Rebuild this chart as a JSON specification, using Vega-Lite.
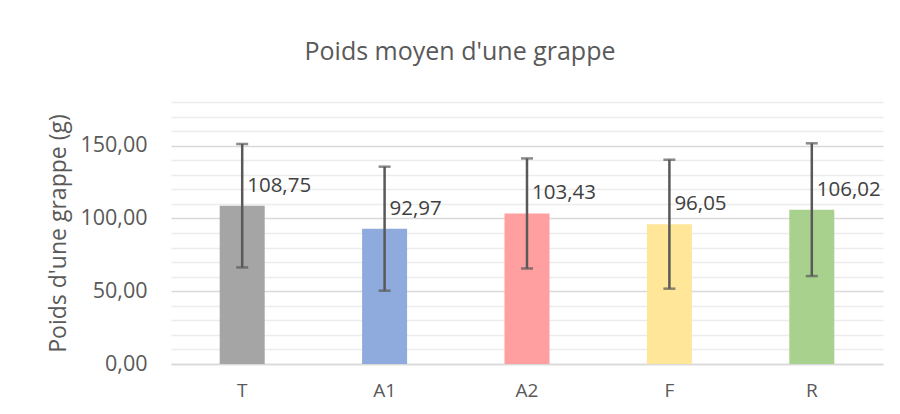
{
  "$schema": "https://vega.github.io/schema/vega-lite/v6.json",
  "autosize": "none",
  "width": 712,
  "height": 262,
  "padding": {"left": 171, "top": 102, "right": 17, "bottom": 50},
  "background": "white",
  "title": {
    "text": "Poids moyen d'une grappe",
    "anchor": "middle",
    "frame": "group",
    "dx": -67,
    "offset": 37,
    "fontSize": 25,
    "font": "Open Sans",
    "fontWeight": "normal",
    "color": "#595959"
  },
  "data": {
    "values": [
      {"trait": "T", "moyenne": 108.75, "bas": 66.35, "haut": 151.15},
      {"trait": "A1", "moyenne": 92.97, "bas": 50.37, "haut": 135.57},
      {"trait": "A2", "moyenne": 103.43, "bas": 65.63, "haut": 141.23},
      {"trait": "F", "moyenne": 96.05, "bas": 51.75, "haut": 140.35},
      {"trait": "R", "moyenne": 106.02, "bas": 60.42, "haut": 151.62}
    ]
  },
  "encoding": {
    "x": {
      "field": "trait",
      "type": "nominal",
      "sort": null,
      "scale": {"paddingInner": 0, "paddingOuter": 0},
      "axis": {
        "title": null,
        "labelAngle": 0,
        "labelFontSize": 19,
        "labelFont": "Open Sans",
        "labelColor": "#595959",
        "labelPadding": 17,
        "ticks": false,
        "domain": true,
        "domainColor": "#d9d9d9",
        "domainWidth": 1.5
      }
    }
  },
  "layer": [
    {
      "mark": {"type": "bar", "size": 45},
      "encoding": {
        "y": {
          "field": "moyenne",
          "type": "quantitative",
          "scale": {"domain": [0, 180], "nice": false},
          "axis": {
            "title": "Poids d'une grappe (g)",
            "values": [0, 10, 20, 30, 40, 50, 60, 70, 80, 90, 100, 110, 120, 130, 140, 150, 160, 170, 180],
            "format": ".2f",
            "labelExpr": "datum.value % 50 === 0 ? datum.label : ''",
            "gridColor": {"condition": {"test": "datum.value % 50 === 0", "value": "#d9d9d9"}, "value": "#ececec"},
            "gridWidth": {"condition": {"test": "datum.value % 50 === 0", "value": 1.5}, "value": 1.3}
          }
        },
        "color": {
          "field": "trait",
          "type": "nominal",
          "legend": null,
          "scale": {
            "domain": ["T", "A1", "A2", "F", "R"],
            "range": ["#a5a5a5", "#8faadc", "#ff9f9f", "#ffe699", "#a9d18e"]
          }
        }
      }
    },
    {
      "mark": {"type": "rule", "color": "#595959", "strokeWidth": 2.5},
      "encoding": {
        "y": {
          "field": "bas",
          "type": "quantitative",
          "axis": {
            "title": "Poids d'une grappe (g)",
            "values": [0, 10, 20, 30, 40, 50, 60, 70, 80, 90, 100, 110, 120, 130, 140, 150, 160, 170, 180],
            "format": ".2f",
            "labelExpr": "datum.value % 50 === 0 ? datum.label : ''",
            "gridColor": {"condition": {"test": "datum.value % 50 === 0", "value": "#d9d9d9"}, "value": "#ececec"},
            "gridWidth": {"condition": {"test": "datum.value % 50 === 0", "value": 1.5}, "value": 1.3}
          }
        },
        "y2": {"field": "haut"}
      }
    },
    {
      "mark": {"type": "tick", "color": "#595959", "thickness": 2.5, "size": 12},
      "encoding": {
        "y": {
          "field": "bas",
          "type": "quantitative",
          "axis": {
            "title": "Poids d'une grappe (g)",
            "values": [0, 10, 20, 30, 40, 50, 60, 70, 80, 90, 100, 110, 120, 130, 140, 150, 160, 170, 180],
            "format": ".2f",
            "labelExpr": "datum.value % 50 === 0 ? datum.label : ''",
            "gridColor": {"condition": {"test": "datum.value % 50 === 0", "value": "#d9d9d9"}, "value": "#ececec"},
            "gridWidth": {"condition": {"test": "datum.value % 50 === 0", "value": 1.5}, "value": 1.3}
          }
        }
      }
    },
    {
      "mark": {"type": "tick", "color": "#595959", "thickness": 2.5, "size": 12},
      "encoding": {
        "y": {
          "field": "haut",
          "type": "quantitative",
          "axis": {
            "title": "Poids d'une grappe (g)",
            "values": [0, 10, 20, 30, 40, 50, 60, 70, 80, 90, 100, 110, 120, 130, 140, 150, 160, 170, 180],
            "format": ".2f",
            "labelExpr": "datum.value % 50 === 0 ? datum.label : ''",
            "gridColor": {"condition": {"test": "datum.value % 50 === 0", "value": "#d9d9d9"}, "value": "#ececec"},
            "gridWidth": {"condition": {"test": "datum.value % 50 === 0", "value": 1.5}, "value": 1.3}
          }
        }
      }
    },
    {
      "mark": {"type": "text", "align": "left", "baseline": "middle", "dx": 5, "dy": -20, "fontSize": 20.5, "font": "Open Sans", "color": "#404040"},
      "encoding": {
        "y": {
          "field": "moyenne",
          "type": "quantitative",
          "axis": {
            "title": "Poids d'une grappe (g)",
            "values": [0, 10, 20, 30, 40, 50, 60, 70, 80, 90, 100, 110, 120, 130, 140, 150, 160, 170, 180],
            "format": ".2f",
            "labelExpr": "datum.value % 50 === 0 ? datum.label : ''",
            "gridColor": {"condition": {"test": "datum.value % 50 === 0", "value": "#d9d9d9"}, "value": "#ececec"},
            "gridWidth": {"condition": {"test": "datum.value % 50 === 0", "value": 1.5}, "value": 1.3}
          }
        },
        "text": {"field": "moyenne", "type": "quantitative", "format": ".2f"}
      }
    }
  ],
  "config": {
    "view": {"stroke": null},
    "axisY": {
      "titleFontSize": 23,
      "titleFont": "Open Sans",
      "titleFontWeight": "normal",
      "titleColor": "#595959",
      "titlePadding": 9,
      "labelFontSize": 21.5,
      "labelFont": "Open Sans",
      "labelColor": "#595959",
      "labelPadding": 24,
      "ticks": false,
      "domain": false,
      "grid": true
    },
    "locale": {
      "number": {"decimal": ",", "thousands": " ", "grouping": [3], "currency": ["", " €"]}
    }
  }
}
